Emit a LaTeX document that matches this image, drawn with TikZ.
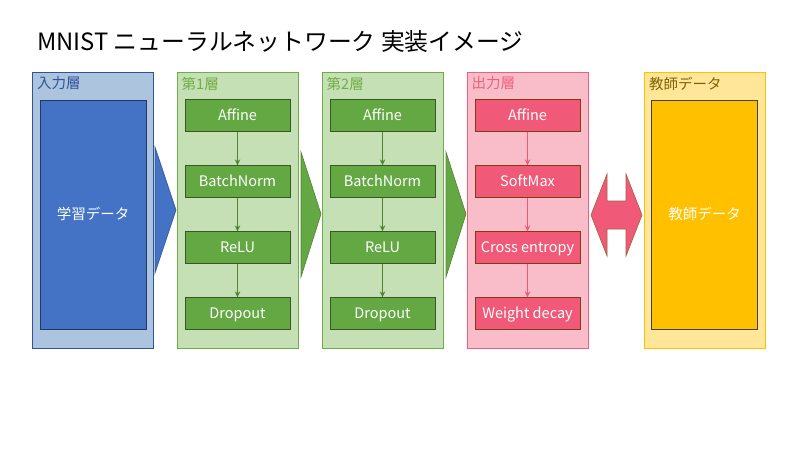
\documentclass[tikz,border=0pt]{standalone}
\usepackage{fontspec}
\setmainfont{Noto Sans CJK JP}
\usetikzlibrary{arrows.meta}
\definecolor{inB}{HTML}{2F5597}
\definecolor{inF}{HTML}{ADC4DF}
\definecolor{inIn}{HTML}{4472C4}
\definecolor{inInB}{HTML}{1F3864}
\definecolor{gF}{HTML}{C5E0B4}
\definecolor{gB}{HTML}{70AD47}
\definecolor{gBox}{HTML}{64A844}
\definecolor{gBoxB}{HTML}{385723}
\definecolor{gCon}{HTML}{548235}
\definecolor{pF}{HTML}{F9BDC9}
\definecolor{pB}{HTML}{F0607C}
\definecolor{pBox}{HTML}{F05A78}
\definecolor{pBoxB}{HTML}{843C0C}
\definecolor{yF}{HTML}{FFE699}
\definecolor{yB}{HTML}{FFC000}
\definecolor{yLab}{HTML}{7F6000}
\definecolor{dgray}{HTML}{404040}
\tikzset{
  layer/.style={draw, line width=0.8pt, minimum width=121pt, minimum height=276pt, inner sep=0pt},
  unit/.style={draw, line width=0.8pt, minimum width=105pt, minimum height=31.5pt, inner sep=0pt, text=white, text height=11.5pt, text depth=1.5pt, font=\fontsize{14.5}{16}\selectfont},
  big/.style={draw, line width=0.8pt, minimum width=106pt, minimum height=229pt, inner sep=0pt, text=white, text height=11.5pt, text depth=1.5pt, font=\fontsize{14.5}{16}\selectfont},
  lab/.style={anchor=west, inner sep=0pt, font=\fontsize{14.5}{16}\selectfont},
  con/.style={-{Stealth[length=6pt,width=5.5pt]}, line width=1.6pt},
}
\begin{document}
\begin{tikzpicture}[x=1pt,y=-1pt]
\useasboundingbox (0,0) rectangle (800,450);
\fill[white] (0,0) rectangle (800,450);
\node[anchor=west, inner sep=0pt, font=\fontsize{23.8}{28}\selectfont] (title) at (37,42) {MNIST ニューラルネットワーク 実装イメージ};
% input layer
\node[layer, draw=inB, fill=inF] (L0) at (92.5,210) {};
\node[lab, text=inB] (L0lab) at (37,83.5) {入力層};
\node[big, draw=inInB, fill=inIn] (data) at (93,214.5) {学習データ};
% hidden layers
\foreach \n/\x/\t in {1/237.5/第1層, 2/382.5/第2層}{
  \node[layer, draw=gB, fill=gF] (L\n) at (\x,210) {};
  \node[lab, text=gB] (L\n lab) at (\x-56,83.5) {\t};
  \node[unit, draw=gBoxB, fill=gBox] (A\n) at (\x,115.5) {Affine};
  \node[unit, draw=gBoxB, fill=gBox] (B\n) at (\x,181.5) {BatchNorm};
  \node[unit, draw=gBoxB, fill=gBox] (R\n) at (\x,247.5) {ReLU};
  \node[unit, draw=gBoxB, fill=gBox] (D\n) at (\x,313.5) {Dropout};
  \draw[con, gCon] (A\n) -- (B\n);
  \draw[con, gCon] (B\n) -- (R\n);
  \draw[con, gCon] (R\n) -- (D\n);
}
% output layer
\node[layer, draw=pB, fill=pF] (L3) at (527.5,210) {};
\node[lab, text=pB] (L3lab) at (471.5,83.5) {出力層};
\node[unit, draw=pBoxB, fill=pBox] (A3) at (527.5,115.5) {Affine};
\node[unit, draw=pBoxB, fill=pBox] (S3) at (527.5,181.5) {SoftMax};
\node[unit, draw=pBoxB, fill=pBox] (C3) at (527.5,247.5) {Cross entropy};
\node[unit, draw=pBoxB, fill=pBox] (W3) at (527.5,313.5) {Weight decay};
\draw[con, pBox] (A3) -- (S3);
\draw[con, pBox] (S3) -- (C3);
\draw[con, pBox] (C3) -- (W3);
% teacher
\node[layer, draw=yB, fill=yF] (T) at (704.5,210) {};
\node[lab, text=yLab] (Tlab) at (649,83.5) {教師データ};
\node[big, draw=dgray, fill=yB] (tdata) at (704.5,214.5) {教師データ};
% chevrons
\draw[inB, fill=inIn, line width=0.6pt] (155,147) -- (176,210) -- (155,273) -- cycle;
\draw[gCon, fill=gBox, line width=0.6pt] (301,152) -- (321,214) -- (301,277) -- cycle;
\draw[gCon, fill=gBox, line width=0.6pt] (446,152) -- (466,214) -- (446,277) -- cycle;
% double arrow
\draw[pBoxB!80, fill=pBox, line width=0.6pt]
  (591,215) -- (607,174) -- (607,201) -- (626,201) -- (626,174) -- (642,215)
  -- (626,256) -- (626,229) -- (607,229) -- (607,256) -- cycle;
\end{tikzpicture}
\end{document}
